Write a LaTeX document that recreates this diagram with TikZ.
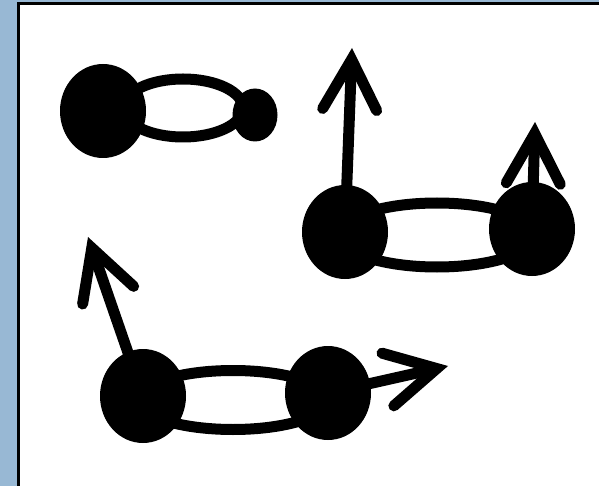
\documentclass[tikz,border=0pt]{standalone}
\usepackage{tikz}
\usetikzlibrary{arrows.meta, shapes.geometric}
\definecolor{slideblue}{RGB}{152,184,212}

\begin{document}
\begin{tikzpicture}[x=1pt, y=-1pt,
    atom/.style={
        ellipse, fill=black, inner sep=0pt,
        minimum width=86pt, minimum height=94pt
    },
    smallatom/.style={
        ellipse, fill=black, inner sep=0pt,
        minimum width=45pt, minimum height=53pt
    },
    bond/.style={draw=black, line width=11pt},
    vec/.style={
        -{Straight Barb[length=50pt, width=54pt, line cap=round, line join=miter]},
        line width=11pt, line cap=butt
    }
]
    \useasboundingbox (0,0) rectangle (599,486);

    % Slide background and frame
    \fill[slideblue] (0,0) rectangle (599,486);
    \draw[line width=3pt, fill=white] (18.5,3.5) rectangle (610,500);

    % Molecule top left: big and small atom
    \node[atom] (a1) at (103,111) {};
    \node[smallatom] (a2) at (255,115) {};
    \draw[bond] (183,108) ellipse [x radius=60, y radius=29];

    % Molecule right: two atoms, both moving up
    \node[atom] (b1) at (345,232) {};
    \node[atom] (b2) at (532,229) {};
    \draw[bond] (437,235) ellipse [x radius=98, y radius=32];
    \coordinate (vb1) at (352,48);
    \coordinate (vb2) at (535,122);
    \draw[vec] (b1.center) -- (vb1);
    \draw[vec] (b2.center) -- (vb2);

    % Molecule bottom: atoms moving apart
    \node[atom] (c1) at (143,396) {};
    \node[atom] (c2) at (328,393) {};
    \draw[bond] (233,400) ellipse [x radius=95, y radius=29.5];
    \coordinate (vc1) at (88,237);
    \coordinate (vc2) at (448,366);
    \draw[vec] (c1.center) -- (vc1);
    \draw[vec] (c2.center) -- (vc2);
\end{tikzpicture}
\end{document}
